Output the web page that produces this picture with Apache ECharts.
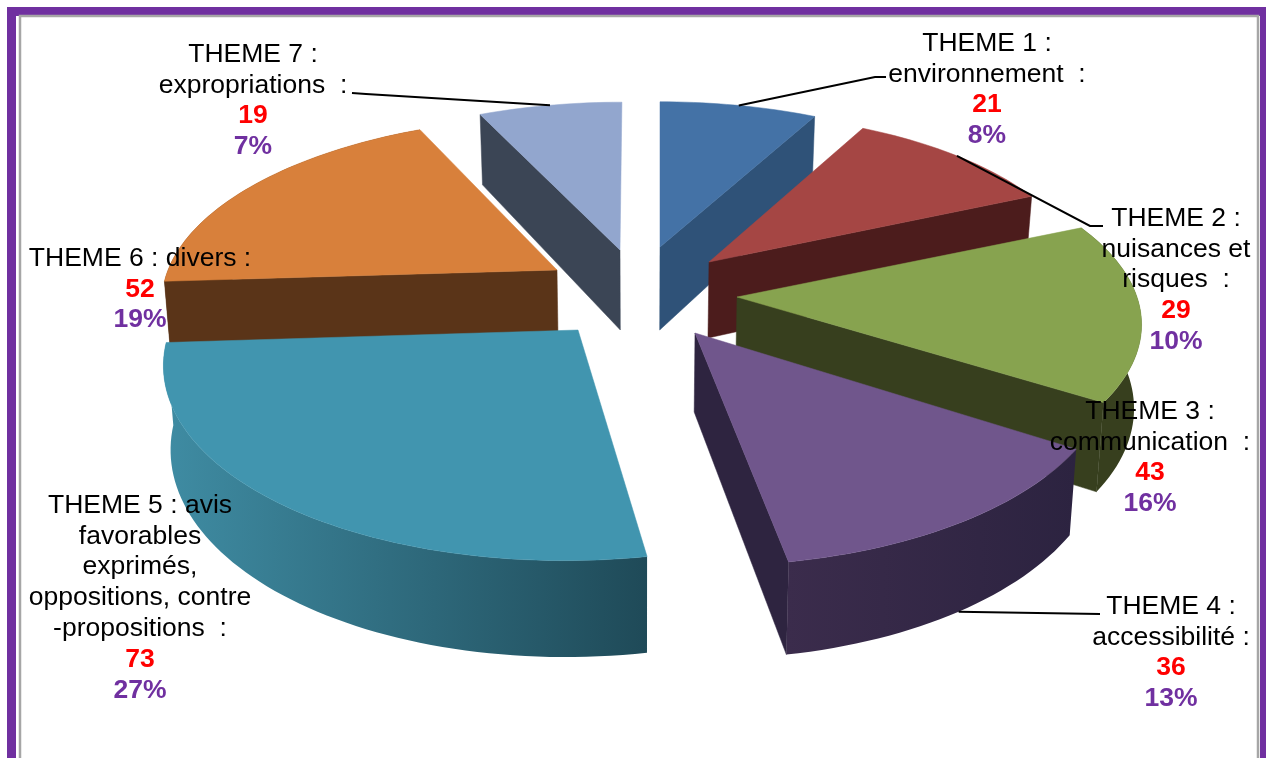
<!DOCTYPE html>
<html><head><meta charset="utf-8">
<script src="https://cdn.jsdelivr.net/npm/echarts@6/dist/echarts.min.js"></script>
<style>html,body{margin:0;padding:0;background:#fff}#c{width:1266px;height:758px}</style>
</head><body><div id="c"></div>
<script>
// --- data ---
const categories = [
  "THEME 1 :\nenvironnement  :",
  "THEME 2 :\nnuisances et\nrisques  :",
  "THEME 3 :\ncommunication  :",
  "THEME 4 :\naccessibilité :",
  "THEME 5 : avis\nfavorables\nexprimés,\noppositions, contre\n-propositions  :",
  "THEME 6 : divers :",
  "THEME 7 :\nexpropriations  :"
];
const values = [21, 29, 43, 36, 73, 52, 19];
const percents = ["8%", "10%", "16%", "13%", "27%", "19%", "7%"];

// --- styling / layout (not data) ---
const topColors  = ["#4472A6", "#A54644", "#87A34F", "#70568C", "#4195AF", "#D8803B", "#92A6CE"];
const wallColors = ["#2F5278", "#4C1C1C", "#373F1E", "#2E2440", "#214E5C", "#5A3418", "#3B4555"];
const rimColors  = [["#2F5278","#2F5278"],["#4C1C1C","#4C1C1C"],["#373F1E","#373F1E"],["#3B2C4C","#2C2340"],["#3F8CA3","#1F4A58"],["#5A3418","#5A3418"],["#3B4555","#3B4555"]];
const apexes = [[660,247],[709,262],[737,297],[695,333],[578,330],[557,270],[620,250]];
const radii  = [[377,167],[375,171],[400,180],[410,198],[408,196],[389,176],[380,170]];
const shears = [0, 0, 0, 0.048, -0.058, -0.057, -0.013];
const depths = [83,76,82,79,82,82,80];
const paintRank = [1,3,5,6,7,2,0];
const showStartWall = [false, false, false, false, false, true, true];
const showEndWall   = [true, true, true, true, false, false, false];
const showRim       = [false, false, true, true, true, true, false];
const labelPos = [[987,28],[1176,203],[1150,396],[1171,591],[140,490],[140,243],[253,39]];
const leaderEnds = [[[875,77],[886,77]],[[1090,226],[1103,226]],null,[[1100,614]],null,null,[[366,94],[352,93]]];
const perspective = 0.15, fontFamily = '"Liberation Sans", Arial, sans-serif';
const total = values.reduce((a, b) => a + b, 0);
const FONT = 26.5;

function project(i, deg, r) {
  const t = deg * Math.PI / 180, k = 1 / (1 + perspective * Math.cos(t));
  const s = r === undefined ? 1 : r;
  const dy = -radii[i][1] * Math.cos(t) * k * s;
  return { x: apexes[i][0] + radii[i][0] * Math.sin(t) * k * s + shears[i] * dy,
           y: apexes[i][1] + dy,
           k: s === 0 ? 1 : 1 + (k - 1) * s };
}
function drop(i, p) {
  const d = depths[i] * p.k;
  return [640 + (p.x - 640) * 0.985, p.y + d];
}
function renderSlice(params, api) {
  const i = params.dataIndex, v = api.value(0);
  let before = 0; for (let j = 0; j < i; j++) before += values[j];
  const a0 = before / total * 360, a1 = (before + v) / total * 360;
  const apex = project(i, 0, 0), arc = [];
  const n = Math.max(8, Math.ceil((a1 - a0) / 1.5));
  for (let j = 0; j <= n; j++) arc.push(project(i, a0 + (a1 - a0) * j / n));
  const xy = p => [p.x, p.y];
  const z = paintRank[i] * 10 + 1;
  const poly = (pts, fill, dz) => ({ type: 'polygon', z2: z + dz, silent: true,
    shape: { points: pts }, style: { fill: fill, stroke: typeof fill === 'string' ? fill : null, lineWidth: 0.5 } });
  const wall = (e) => poly([xy(apex), xy(e), drop(i, e), drop(i, apex)], wallColors[i], 0);
  const rim = arc.map(xy).concat(arc.slice().reverse().map(p => drop(i, p)));
  const rimFill = { type: 'linear', x: 0, y: 0, x2: 1, y2: 0,
    colorStops: [{ offset: 0, color: rimColors[i][0] }, { offset: 1, color: rimColors[i][1] }] };
  const children = [];
  if (showStartWall[i]) children.push(wall(arc[0]));
  if (showEndWall[i]) children.push(wall(arc[n]));
  if (showRim[i]) children.push(poly(rim, rimFill, 1));
  children.push(poly([xy(apex)].concat(arc.map(xy)), topColors[i], 2));
  // leader line anchored on the rim at the slice's middle angle
  if (leaderEnds[i]) {
    const m = project(i, (a0 + a1) / 2);
    const start = i === 3 ? drop(i, m) : xy(m);
    children.push({ type: 'polyline', z2: 200, silent: true,
      shape: { points: [start].concat(leaderEnds[i]) },
      style: { stroke: '#000', lineWidth: 2, fill: null } });
  }
  // label
  const lines = categories[i].split('\n').map(s => '{t|' + s + '}');
  lines.push('{v|' + v + '}', '{p|' + percents[i] + '}');
  children.push({ type: 'text', z2: 300, silent: true,
    style: { x: labelPos[i][0], y: labelPos[i][1], align: 'center', verticalAlign: 'top',
      text: lines.join('\n'),
      rich: {
        t: { fontFamily, fontSize: FONT, lineHeight: 30.8, fill: '#000', color: '#000' },
        v: { fontFamily, fontSize: FONT, fontWeight: 'bold', lineHeight: 30.8, fill: '#FF0000', color: '#FF0000' },
        p: { fontFamily, fontSize: FONT, fontWeight: 'bold', lineHeight: 30.8, fill: '#7030A0', color: '#7030A0' }
      } } });
  return { type: 'group', children };
}
const chart = echarts.init(document.getElementById('c'), null, { renderer: 'canvas' });
chart.setOption({
  animation: false,
  backgroundColor: '#fff',
  graphic: { elements: [
    { type: 'polyline', silent: true, z: -1, shape: { points: [[11.5,758],[11.5,11.5],[1264.5,11.5],[1264.5,758]] },
      style: { stroke: '#7030A0', lineWidth: 9, fill: null } },
    { type: 'polyline', silent: true, z: -1, shape: { points: [[20,758],[20,16],[1258,16],[1258,758]] },
      style: { stroke: '#A6A6A6', lineWidth: 2.5, fill: null } }
  ] },
  series: [{ type: 'custom', coordinateSystem: 'none', renderItem: renderSlice,
    data: values.map((v, i) => ({ name: categories[i], value: [v] })) }]
});
</script></body></html>
